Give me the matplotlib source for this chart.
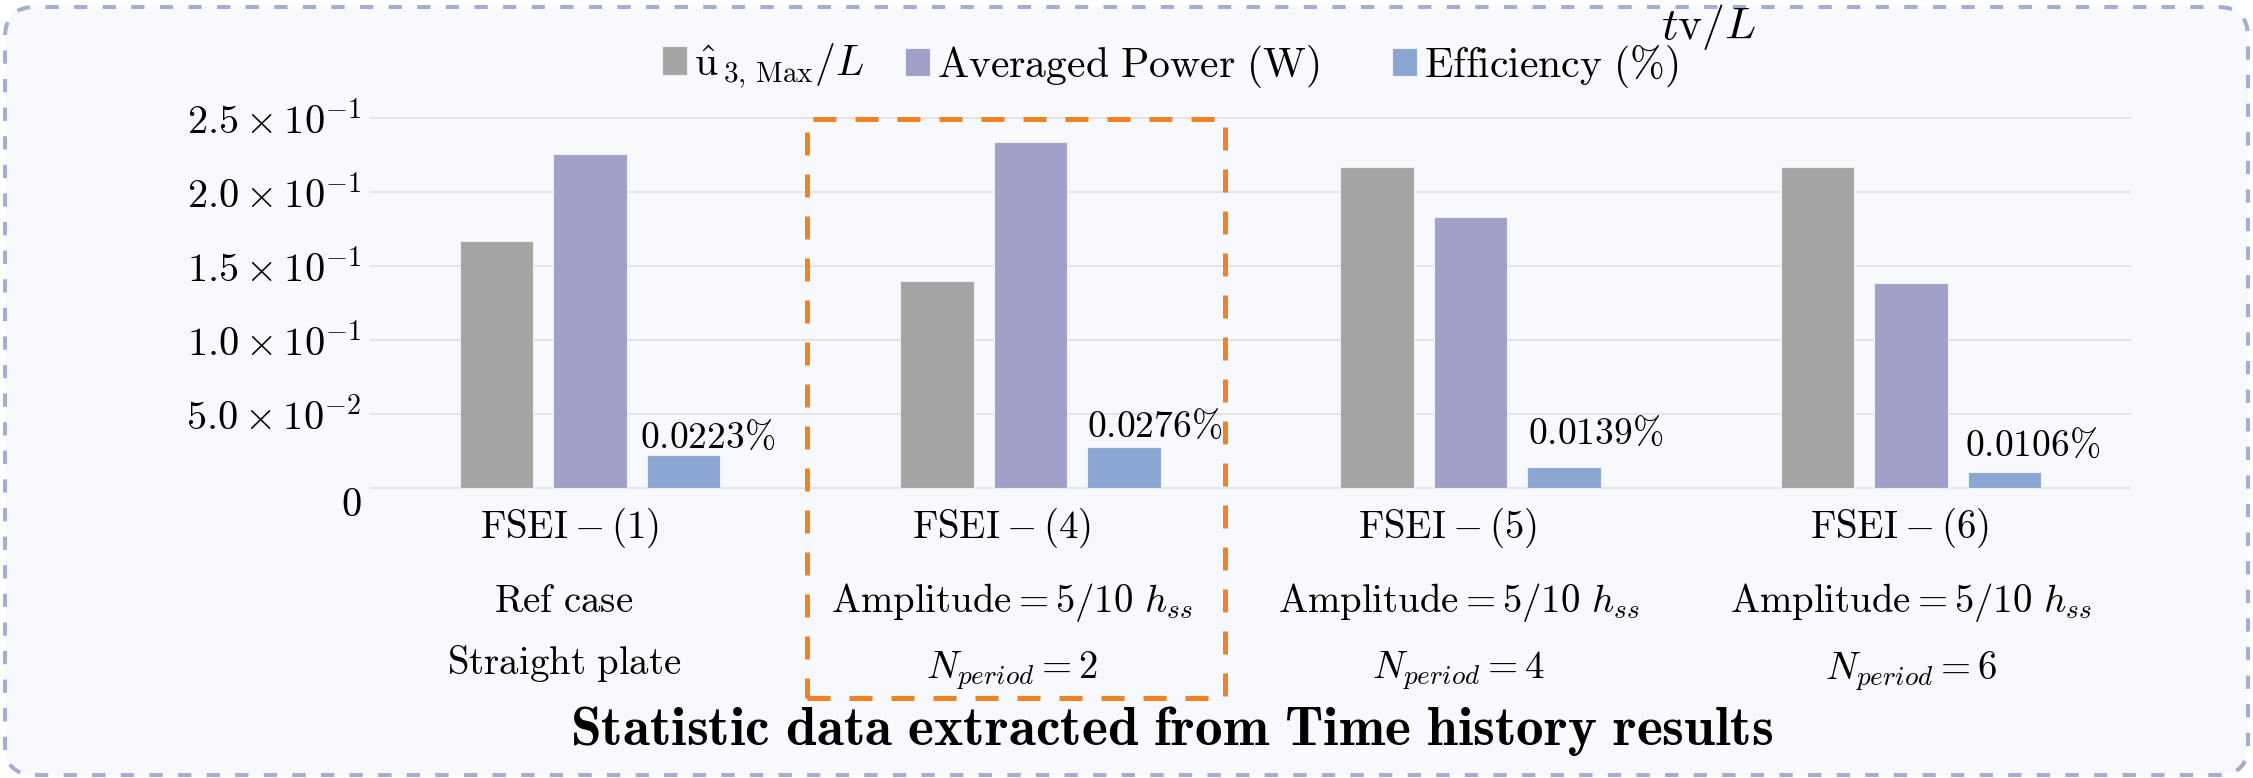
import numpy as np
import matplotlib
matplotlib.use("Agg")
import matplotlib.pyplot as plt
from matplotlib.patches import FancyBboxPatch, Rectangle
from matplotlib import transforms

plt.rcParams['mathtext.fontset'] = 'cm'
plt.rcParams['font.family'] = ['DejaVu Serif']

# ---------------- data ----------------
case_names = [r"$\mathrm{FSEI}-(1)$", r"$\mathrm{FSEI}-(4)$",
              r"$\mathrm{FSEI}-(5)$", r"$\mathrm{FSEI}-(6)$"]
case_line2 = [r"$\mathrm{Ref\ case}$",
              r"$\mathrm{Amplitude}=5/10\ h_{ss}$",
              r"$\mathrm{Amplitude}=5/10\ h_{ss}$",
              r"$\mathrm{Amplitude}=5/10\ h_{ss}$"]
case_line3 = [r"$\mathrm{Straight\ plate}$", r"$N_{period}=2$",
              r"$N_{period}=4$", r"$N_{period}=6$"]

u3_max = [0.1667, 0.1399, 0.2169, 0.2169]
avg_power = [0.2255, 0.2338, 0.1827, 0.1385]
efficiency = [0.0223, 0.0276, 0.0139, 0.0106]

series_names = [r"$\hat{\mathrm{u}}_{\,3,\,\mathrm{Max}}/L$",
                r"$\mathrm{Averaged\ Power\ (W)}$",
                r"$\mathrm{Efficiency\ (\%)}$"]
series_colors = ["#a5a5a5", "#a0a0c8", "#8ba6d2"]

y_ticks = [0.0, 0.05, 0.10, 0.15, 0.20, 0.25]
y_tick_labels = [r"$0$", r"$5.0\times10^{-2}$", r"$1.0\times10^{-1}$",
                 r"$1.5\times10^{-1}$", r"$2.0\times10^{-1}$",
                 r"$2.5\times10^{-1}$"]

title = r"$\mathbf{Statistic\ data\ extracted\ from\ Time\ history\ results}$"

# ---------------- figure ----------------
W, H, DPI = 2253, 778, 100
fig = plt.figure(figsize=(W / DPI, H / DPI), dpi=DPI)
fig.patch.set_facecolor("white")

# rounded dashed frame behind everything
frame = FancyBboxPatch((0.05, 0.03), 22.43, 7.68,
                       boxstyle="round,pad=0,rounding_size=0.3",
                       transform=fig.dpi_scale_trans,
                       facecolor="#f7f9fd", edgecolor="#a5add5",
                       linewidth=2.9, linestyle=(0, (3.3, 3.8)),
                       zorder=-10)
fig.add_artist(frame)

ax = fig.add_axes([370 / W, 0.36838, (2131 - 370) / W, 0.48509])
ax.set_facecolor("none")
ax.set_xlim(-0.5, 3.5)
ax.set_ylim(-0.0025, 0.2525)

x = np.arange(len(case_names))
bar_w = 0.1665
step = 0.2124
bars = []
for k, (vals, col) in enumerate(zip([u3_max, avg_power, efficiency], series_colors)):
    b = ax.bar(x + (k - 1) * step, vals, width=bar_w, color=col,
               edgecolor="#eef0f6", linewidth=0.8, zorder=3)
    bars.append(b)

# efficiency value labels (nudges in pixels)
label_nudge = [(24, 7), (31, 10), (31, 23), (28, 16)]
for xi, v, (dx, dy) in zip(x, efficiency, label_nudge):
    ax.annotate(rf"${v:.4f}\%$", xy=(xi + step, v),
                xytext=(dx * 0.72, dy * 0.72), textcoords="offset points",
                ha="center", va="baseline", fontsize=27, zorder=4)

ax.set_yticks(y_ticks)
ax.set_yticklabels(y_tick_labels)
ax.set_xticks([])
ax.tick_params(axis="y", length=0, labelsize=29, pad=6)
ax.yaxis.grid(True, color="#e4e4e4", linewidth=1.5)
ax.set_axisbelow(True)
for s in ax.spines.values():
    s.set_visible(False)
# the zero label sits a little lower than its gridline
zl = ax.get_yticklabels()[0]
zl.set_transform(zl.get_transform() +
                 transforms.ScaledTranslation(0, -14 / DPI, fig.dpi_scale_trans))

# category text under the bars
def place(i, dx_px, y_px, s, **kw):
    tr = (transforms.blended_transform_factory(ax.transData, fig.transFigure) +
          transforms.ScaledTranslation(dx_px / DPI, 0, fig.dpi_scale_trans))
    return fig.text(i, 1 - y_px / H, s, transform=tr, ha="center",
                    va="center", **kw)

name_dx = [-21, -29, -23, -11]
line_dx = [-26, -18, -12, 0]
line3_y = [663, 671, 671, 671]
for i in range(len(case_names)):
    place(i, name_dx[i], 528, case_names[i], fontsize=28)
    place(i, line_dx[i], 602, case_line2[i], fontsize=28)
    place(i, line_dx[i], line3_y[i], case_line3[i], fontsize=28)

# highlight box around the second case
hl = Rectangle((8.07, (H - 698) / DPI), 4.18, 5.79,
               transform=fig.dpi_scale_trans, fill=False,
               edgecolor="#f08223", linewidth=3.6,
               linestyle=(0, (4.6, 3.8)), zorder=20)
fig.add_artist(hl)

# one legend entry per series, each anchored at its own left edge
legend_left_px = [662, 905, 1392]
for b, name, lx in zip(bars, series_names, legend_left_px):
    fig.legend(handles=[b.patches[0]], labels=[name],
               loc="center left", bbox_to_anchor=(lx / W, 1 - 66 / H),
               frameon=False, fontsize=30, handlelength=0.6,
               handleheight=0.68, handletextpad=0.17,
               borderpad=0, borderaxespad=0)

fig.text(1709 / W, 1 - 27 / H, r"$t\mathrm{v}/L$", fontsize=33,
         ha="center", va="center")
ttl = fig.text(570 / W, 1 - 731 / H, title, fontsize=33, ha="left",
               va="center")

# size the title so it runs from x=570 to x=1774 px
fig.canvas.draw()
r = fig.canvas.get_renderer()
bb = ttl.get_window_extent(r)
ttl.set_fontsize(33 * (1774 - 570) / bb.width)

fig.savefig("out.png", dpi=DPI)
